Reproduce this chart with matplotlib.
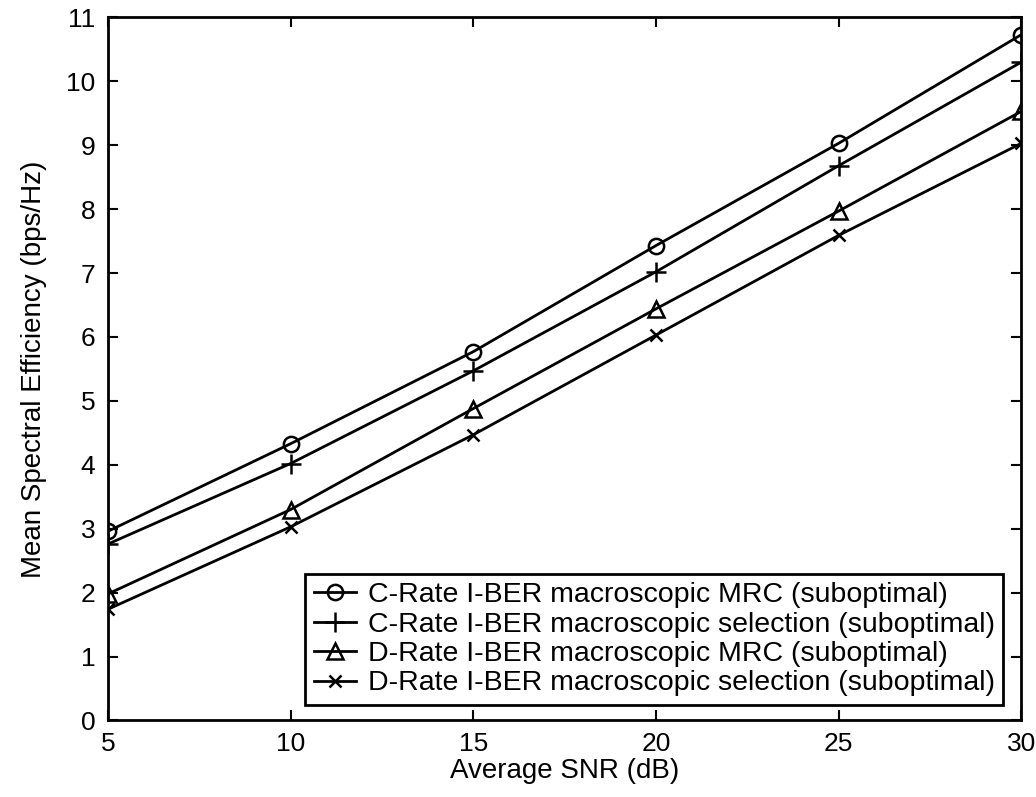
import matplotlib
matplotlib.use("Agg")
import matplotlib.pyplot as plt

snr = [5, 10, 15, 20, 25, 30]
c_mrc = [2.96, 4.33, 5.77, 7.43, 9.03, 10.73]
c_sel = [2.76, 4.02, 5.47, 7.02, 8.68, 10.30]
d_mrc = [1.98, 3.30, 4.88, 6.44, 7.97, 9.53]
d_sel = [1.74, 3.03, 4.47, 6.03, 7.59, 9.03]
labels = [
    "C-Rate I-BER macroscopic MRC (suboptimal)",
    "C-Rate I-BER macroscopic selection (suboptimal)",
    "D-Rate I-BER macroscopic MRC (suboptimal)",
    "D-Rate I-BER macroscopic selection (suboptimal)",
]
xticks = [5, 10, 15, 20, 25, 30]
yticks = list(range(0, 12))

plt.rcParams['font.family'] = ['Liberation Sans', 'DejaVu Sans']

fig = plt.figure(figsize=(10.36, 7.97), dpi=100)
ax = fig.add_axes([0.1042, 0.096, 0.8818, 0.8823])

lw = 2.0
ax.plot(snr, c_mrc, color='black', lw=lw, marker='o', ms=11, mfc='none', mew=1.8, label=labels[0])
ax.plot(snr, c_sel, color='black', lw=lw, marker='+', ms=15, mew=1.8, label=labels[1])
ax.plot(snr, d_mrc, color='black', lw=lw, marker='^', ms=12, mfc='none', mew=1.8, label=labels[2])
ax.plot(snr, d_sel, color='black', lw=lw, marker='x', ms=8, mew=1.8, label=labels[3])

ax.set_xlim(5, 30)
ax.set_ylim(0, 11)
ax.set_xticks(xticks)
ax.set_yticks(yticks)
ax.tick_params(direction='in', top=True, right=True, length=7, width=1.5, labelsize=19)
ax.tick_params(axis='y', pad=9)
ax.tick_params(axis='x', pad=8)
for s in ax.spines.values():
    s.set_linewidth(2.0)

ax.set_xlabel("Average SNR (dB)", fontsize=20, labelpad=2)
ax.set_ylabel("Mean Spectral Efficiency (bps/Hz)", fontsize=20, labelpad=14)

leg = ax.legend(loc='lower right', bbox_to_anchor=(0.98, 0.022), fontsize=20.5,
                frameon=True, fancybox=False, edgecolor='black', framealpha=1,
                handlelength=1.5, handletextpad=0.4, labelspacing=0.12, borderpad=0.3,
                borderaxespad=0)
leg.get_frame().set_linewidth(2.0)

fig.savefig("out.png", dpi=100)
